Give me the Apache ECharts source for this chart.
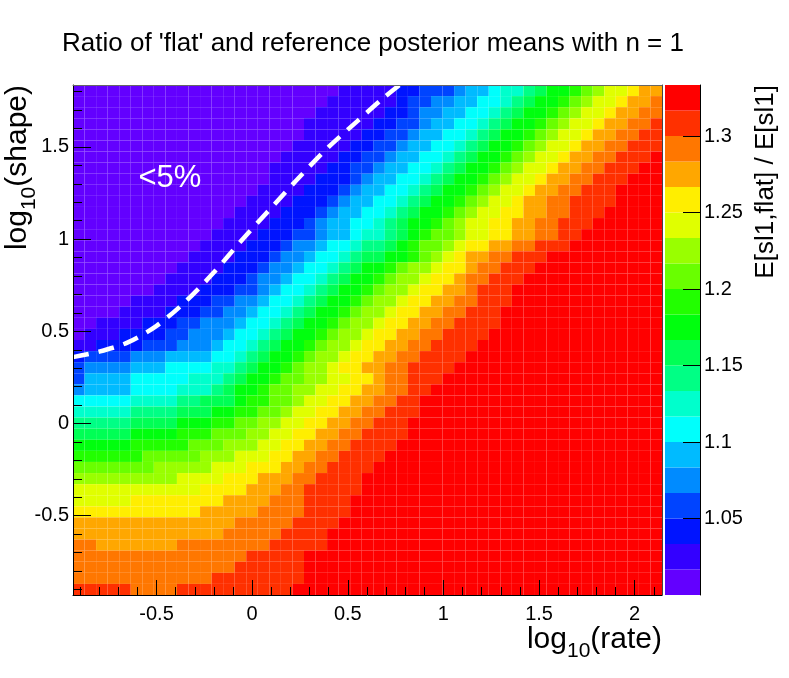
<!DOCTYPE html>
<html>
<head>
<meta charset="utf-8">
<title>Ratio of 'flat' and reference posterior means</title>
<script src="https://cdn.jsdelivr.net/npm/echarts@6.0.0/dist/echarts.min.js"></script>
<style>
  html, body { margin: 0; padding: 0; background: #fff; }
  #chart { width: 789px; height: 678px; }
</style>
</head>
<body>
<div id="chart"></div>
<script>
// histogram binning: log10(rate) along x, log10(shape) along y
var xEdges = [-0.937, 2.143];
var yEdges = [-0.930, 1.836];
var nBinsX = 51;
var nBinsY = 46;

// colour scale: 20 contour levels from 1 to 4/3
var zRange = [1.0, 4 / 3];
var levelColors = [
  '#6300ff', '#3300ff', '#0014ff', '#0044ff', '#008bff',
  '#00bbff', '#00fffc', '#00ffcc', '#00ff85', '#00ff55',
  '#00ff0e', '#22ff00', '#69ff00', '#99ff00', '#e0ff00',
  '#ffee00', '#ffa700', '#ff7700', '#ff3000', '#ff0000'
];

// colour level of each bin, one string per shape row, top row first
// '0'..'9','a'..'j' = level 0..19; bins after the end of a string are saturated (level 19)
var levelRows = [
  '00000000000000000000000111112233345567789aabcdeefgg',
  '0000000000000000000000111111233445566789aabcdeefggh',
  '000000000000000000000111111223445566789aabcdeefgghh',
  '00000000000000000000111111223345566789aabcdeefgghhi',
  '0000000000000000000011111223345566789aabcdeefgghhii',
  '000000000000000000011111223345566789aabcdeefgghhiii',
  '00000000000000000011111223345566789aabcdeefgghhiii',
  '0000000000000000011111223345566789aabcdeefgghhiii',
  '000000000000000001111222345566789aabcdeefgghhiii',
  '00000000000000001111222345566789aabcdeefgghhiii',
  '0000000000000001111222345566789aabcdeefgghhiiii',
  '000000000000001111222345566789aabcdeeffgghhiii',
  '00000000000001111222345566789aabcdeeffgghhiii',
  '00000000000011112223345567789abccdeeffgghhii',
  '0000000000011112223445667889abccdeffgghhiii',
  '000000000011112223445667899aabcdefgghhiii',
  '0000000001111222344566789aabcddeffghhiii',
  '000000001111222344566789aabcddeffghhiii',
  '00000001111222334566789aabcddeffgghiii',
  '0000011112223344566789aabcddeffgghhiii',
  '000011112223344566789aabcddeffgghhiii',
  '00111122233444566789aabcddeffgghhiiii',
  '0111222233444566789aabcddeffgghhiiii',
  '112222333444566789aabcddeffgghhiiii',
  '23333444555566789aabcddeffgghhiiii',
  '3444455566667789aabcddeffgghhiiii',
  '355556666677789aabccddeeffghhiii',
  '45555666677789aabccddeeffgghhii',
  '66666777788999abbccdeeffgghhii',
  '777778888999aabbccdeeffgghhiii',
  '888889999aaabbccddeeffgghhiii',
  '99999aaaabbbcccddeeffgghhiiii',
  'aaaaabbbbbcccdddeeffgghhiiii',
  'bbbbbbcccccdddeeeffgghhiiii',
  'cccccccdddddeeefffgghhiiii',
  'dddddddddeeeefffggghhiiii',
  'eeeeeeeeeeeffffggghhiiiii',
  'eeeeeffffffffgggghhhiiii',
  'fffffffffffggggghhhhiiii',
  'gggggggggggggghhhhhiiii',
  'ggggggggggggghhhhhiiii',
  'hhggggggghhhhhhhhiiiii',
  'hhhhhhhhhhhhhhhiiiii',
  'hhhhhhhhhhhhhhiiiiii',
  'hhhhhhhhhhhhiiiiiiii',
  'iiiiihhhhiiiiiiiiii'
];

// axis ticks
var majorTicksX = [-0.5, 0, 0.5, 1, 1.5, 2];
var minorTicksX = [-0.9, -0.8, -0.7, -0.6, -0.5, -0.4, -0.3, -0.2, -0.1, 0, 0.1, 0.2, 0.3, 0.4, 0.5,
  0.6, 0.7, 0.8, 0.9, 1, 1.1, 1.2, 1.3, 1.4, 1.5, 1.6, 1.7, 1.8, 1.9, 2, 2.1];
var majorTicksY = [-0.5, 0, 0.5, 1, 1.5];
var minorTicksY = [-0.9, -0.8, -0.7, -0.6, -0.5, -0.4, -0.3, -0.2, -0.1, 0, 0.1, 0.2, 0.3, 0.4, 0.5,
  0.6, 0.7, 0.8, 0.9, 1, 1.1, 1.2, 1.3, 1.4, 1.5, 1.6, 1.7, 1.8];
var colorTicks = [1.05, 1.1, 1.15, 1.2, 1.25, 1.3];

// white dashed 5% line
var contourX = [-0.937, -0.8, -0.65, -0.5, -0.35, -0.2, -0.05, 0.1, 0.25, 0.4, 0.55, 0.68, 0.8];
var contourY = [0.36, 0.39, 0.44, 0.53, 0.66, 0.82, 1.0, 1.17, 1.34, 1.5, 1.64, 1.76, 1.86];

var notePos = [-0.43, 1.33];

var font = '"Liberation Sans", Arial, Helvetica, sans-serif';
var dx = (xEdges[1] - xEdges[0]) / nBinsX;
var dy = (yEdges[1] - yEdges[0]) / nBinsY;
var nLevels = levelColors.length;
var dz = (zRange[1] - zRange[0]) / nLevels;

function levelOf(z) {
  var i = Math.floor((z - zRange[0]) / dz);
  return Math.max(0, Math.min(nLevels - 1, i));
}

// bin centres + bin value
var cells = [];
for (var r = 0; r < nBinsY; r++) {
  var row = levelRows[r];
  for (var c = 0; c < nBinsX; c++) {
    var level = c < row.length ? parseInt(row.charAt(c), 36) : nLevels - 1;
    cells.push([xEdges[0] + (c + 0.5) * dx, yEdges[1] - (r + 0.5) * dy, zRange[0] + (level + 0.5) * dz]);
  }
}

var bands = levelColors.map(function (col, i) {
  return [0.5, zRange[0] + i * dz, zRange[0] + (i + 1) * dz];
});

var contour = contourX.map(function (x, i) { return [x, contourY[i]]; });

function renderCell(params, api) {
  var x = api.value(0), y = api.value(1);
  var p0 = api.coord([x - dx / 2, y + dy / 2]);
  var p1 = api.coord([x + dx / 2, y - dy / 2]);
  return {
    type: 'rect',
    shape: { x: p0[0], y: p0[1], width: p1[0] - p0[0], height: p1[1] - p0[1] },
    style: { fill: levelColors[levelOf(api.value(2))] }
  };
}

function renderBand(params, api) {
  var p0 = api.coord([0, api.value(2)]);
  var p1 = api.coord([1, api.value(1)]);
  return {
    type: 'rect',
    shape: { x: p0[0], y: p0[1], width: p1[0] - p0[0], height: p1[1] - p0[1] },
    style: { fill: levelColors[params.dataIndex] }
  };
}

var subRich = {
  n: { fontSize: 30, lineHeight: 34, verticalAlign: 'top', color: '#000', fontFamily: font },
  s: { fontSize: 21, lineHeight: 21, padding: [19, 0, 0, 0], color: '#000', fontFamily: font }
};

var tickLine = { color: '#000', width: 1 };

var option = {
  animation: false,
  backgroundColor: '#fff',
  textStyle: { fontFamily: font },
  title: {
    text: "Ratio of 'flat' and reference posterior means with n = 1",
    left: 62,
    top: 31,
    padding: 0,
    textStyle: { fontSize: 26, fontWeight: 'normal', color: '#000', fontFamily: font }
  },
  grid: [
    { left: 73, top: 85, width: 589, height: 510 },
    { left: 665, top: 85, width: 35, height: 510 }
  ],
  xAxis: [
    {
      gridIndex: 0, type: 'value', min: xEdges[0], max: xEdges[1], position: 'bottom', z: 10,
      axisLine: { show: true, onZero: false, lineStyle: { color: '#000', width: 1 } },
      axisTick: { show: true, inside: true, length: 15, customValues: majorTicksX, lineStyle: tickLine },
      axisLabel: { show: true, customValues: majorTicksX, margin: 9, fontSize: 20, color: '#000', fontFamily: font },
      splitLine: { show: false },
      name: '{n|log}{s|10}{n|(rate)}',
      nameLocation: 'end',
      nameGap: 0,
      nameMoveOverlap: false,
      nameTextStyle: { align: 'right', verticalAlign: 'top', padding: [30, 0, 0, 0], rich: subRich }
    },
    {
      gridIndex: 0, type: 'value', min: xEdges[0], max: xEdges[1], position: 'bottom', z: 10,
      axisLine: { show: false, onZero: false },
      axisTick: { show: true, inside: true, length: 8, customValues: minorTicksX, lineStyle: tickLine },
      axisLabel: { show: false },
      splitLine: { show: false }
    },
    {
      gridIndex: 0, type: 'value', min: xEdges[0], max: xEdges[1], position: 'top', z: 10,
      axisLine: { show: true, onZero: false, lineStyle: { color: '#666', width: 1 } },
      axisTick: { show: false }, axisLabel: { show: false }, splitLine: { show: false }
    },
    {
      gridIndex: 1, type: 'value', min: 0, max: 1, show: false,
      axisLine: { onZero: false }
    }
  ],
  yAxis: [
    {
      gridIndex: 0, type: 'value', min: yEdges[0], max: yEdges[1], position: 'left', z: 10,
      axisLine: { show: true, onZero: false, lineStyle: { color: '#000', width: 1 } },
      axisTick: { show: true, inside: true, length: 18, customValues: majorTicksY, lineStyle: tickLine },
      axisLabel: { show: true, customValues: majorTicksY, margin: 4, fontSize: 20, color: '#000', fontFamily: font },
      splitLine: { show: false },
      name: '{n|log}{s|10}{n|(shape)}',
      nameLocation: 'end',
      nameGap: 0,
      nameRotate: 90,
      nameMoveOverlap: false,
      nameTextStyle: { align: 'right', verticalAlign: 'bottom', padding: [0, 0, 36, 0], rich: subRich }
    },
    {
      gridIndex: 0, type: 'value', min: yEdges[0], max: yEdges[1], position: 'left', z: 10,
      axisLine: { show: false, onZero: false },
      axisTick: { show: true, inside: true, length: 9, customValues: minorTicksY, lineStyle: tickLine },
      axisLabel: { show: false },
      splitLine: { show: false }
    },
    {
      gridIndex: 0, type: 'value', min: yEdges[0], max: yEdges[1], position: 'right', z: 10,
      axisLine: { show: true, onZero: false, lineStyle: { color: '#444', width: 1 } },
      axisTick: { show: false }, axisLabel: { show: false }, splitLine: { show: false }
    },
    {
      gridIndex: 1, type: 'value', min: zRange[0], max: zRange[1], position: 'right', z: 10,
      axisLine: { show: true, onZero: false, lineStyle: { color: '#000', width: 1 } },
      axisTick: { show: true, inside: true, length: 17, customValues: colorTicks, lineStyle: tickLine },
      axisLabel: { show: true, customValues: colorTicks, margin: 4, fontSize: 20, color: '#000', fontFamily: font },
      splitLine: { show: false },
      name: 'E[sl1,flat] / E[sl1]',
      nameLocation: 'end',
      nameGap: 0,
      nameRotate: 90,
      nameMoveOverlap: false,
      nameTextStyle: { align: 'right', verticalAlign: 'top', padding: [53, 0, 0, 0], fontSize: 26, color: '#000', fontFamily: font }
    }
  ],
  series: [
    {
      type: 'custom',
      name: 'ratio',
      xAxisIndex: 0,
      yAxisIndex: 0,
      data: cells,
      encode: { x: 0, y: 1 },
      renderItem: renderCell,
      clip: true,
      silent: true
    },
    {
      type: 'line',
      xAxisIndex: 0,
      yAxisIndex: 0,
      data: contour,
      smooth: 0.3,
      showSymbol: false,
      clip: true,
      silent: true,
      z: 5,
      lineStyle: { color: '#fff', width: 4.5, type: [16, 10] }
    },
    {
      type: 'scatter',
      xAxisIndex: 0,
      yAxisIndex: 0,
      data: [notePos],
      symbolSize: 1,
      itemStyle: { color: 'rgba(0,0,0,0)' },
      silent: true,
      z: 6,
      label: {
        show: true, position: 'inside', formatter: '<5%', opacity: 1,
        fontSize: 31, color: '#ffffff', textBorderWidth: 0, fontFamily: font
      }
    },
    {
      type: 'custom',
      name: 'palette',
      xAxisIndex: 3,
      yAxisIndex: 3,
      data: bands,
      encode: { x: 0, y: [1, 2] },
      renderItem: renderBand,
      silent: true
    }
  ]
};

var chart = echarts.init(document.getElementById('chart'));
chart.setOption(option);
</script>
</body>
</html>
